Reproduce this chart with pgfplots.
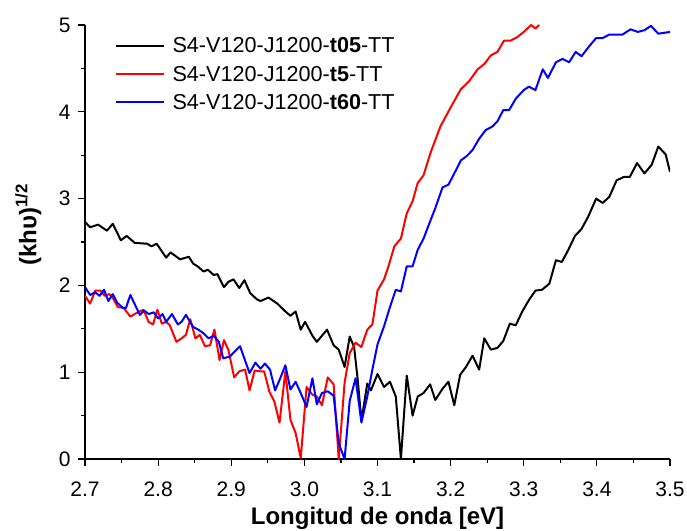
\documentclass[border=0pt]{standalone}
\usepackage{fontspec}
\setmainfont{Liberation Sans}
\usepackage{pgfplots}
\pgfplotsset{compat=1.18}

\begin{document}
\begin{tikzpicture}
% page = 687 x 530 px, axis box lower left at (85,459) px
\useasboundingbox (-85pt,-71pt) rectangle (602pt,459pt);
\begin{axis}[
    scale only axis,
    width=585pt, height=434pt,
    xmin=2.7, xmax=3.5, ymin=0, ymax=5,
    axis x line*=bottom, axis y line*=left,
    axis line style={line width=1.3pt},
    tick align=outside,
    xtick={2.7,2.8,2.9,3.0,3.1,3.2,3.3,3.4,3.5},
    ytick={0,1,2,3,4,5},
    minor x tick num=1, minor y tick num=1,
    major tick length=7pt, minor tick length=4pt,
    every tick/.style={line width=1.2pt, black},
    font=\fontsize{21}{25}\selectfont,
    /pgf/number format/assume math mode=true,
    xticklabel style={yshift=-12pt, /pgf/number format/.cd, fixed, fixed zerofill, precision=1},
    yticklabel style={xshift=-4pt},
    xlabel={Longitud de onda [eV]},
    ylabel={(khυ)\textsuperscript{1/2}},
    xlabel style={at={(axis description cs:0.5,-0.152)}, anchor=base,
        font=\fontsize{24}{28}\selectfont\bfseries},
    ylabel style={at={(axis description cs:-0.097,0.54)}, anchor=center,
        font=\fontsize{24}{28}\selectfont\bfseries},
    legend style={at={(rel axis cs:0.045,0.98)}, anchor=north west,
        draw=none, fill=none, row sep=7.5pt, font=\fontsize{21.6}{25}\selectfont},
    legend cell align=left,
    legend image code/.code={\draw[#1] (0pt,0pt) -- (48pt,0pt); \path (54pt,0pt);},
    every axis plot/.append style={line width=2pt, line join=round},
]
\addplot[black] table {
2.700 2.73
2.707 2.67
2.718 2.70
2.730 2.63
2.738 2.71
2.749 2.52
2.757 2.57
2.768 2.49
2.785 2.48
2.791 2.45
2.798 2.48
2.811 2.32
2.817 2.38
2.830 2.30
2.842 2.33
2.848 2.25
2.854 2.22
2.862 2.16
2.868 2.18
2.876 2.12
2.881 2.13
2.890 1.98
2.896 2.04
2.903 2.07
2.911 1.97
2.918 2.06
2.926 1.91
2.935 1.84
2.940 1.82
2.951 1.86
2.963 1.79
2.974 1.70
2.981 1.65
2.988 1.70
2.995 1.49
3.001 1.58
3.011 1.42
3.017 1.35
3.031 1.49
3.040 1.31
3.047 1.26
3.055 1.06
3.062 1.41
3.068 1.29
3.073 0.91
3.078 0.44
3.086 0.87
3.091 0.79
3.100 0.98
3.109 0.83
3.117 0.89
3.125 0.72
3.132 0.00
3.140 0.96
3.148 0.50
3.155 0.72
3.163 0.76
3.172 0.86
3.179 0.68
3.189 0.81
3.197 0.89
3.205 0.62
3.213 0.97
3.221 1.06
3.230 1.19
3.239 1.03
3.246 1.39
3.255 1.26
3.264 1.28
3.272 1.36
3.281 1.56
3.289 1.54
3.298 1.70
3.307 1.83
3.316 1.94
3.325 1.95
3.335 2.02
3.344 2.29
3.352 2.27
3.361 2.41
3.370 2.57
3.379 2.65
3.388 2.79
3.399 3.00
3.408 2.95
3.417 3.02
3.427 3.21
3.437 3.25
3.445 3.25
3.455 3.41
3.465 3.29
3.475 3.39
3.484 3.60
3.494 3.51
3.500 3.31
};
\addlegendentry{S4-V120-J1200-\textbf{t05}-TT}
\addplot[red] table {
2.700 1.88
2.707 1.79
2.714 1.94
2.721 1.94
2.727 1.88
2.733 1.90
2.737 1.87
2.745 1.75
2.753 1.74
2.762 1.64
2.770 1.68
2.780 1.72
2.787 1.58
2.793 1.55
2.799 1.72
2.805 1.56
2.811 1.58
2.816 1.54
2.825 1.35
2.832 1.39
2.838 1.43
2.844 1.61
2.851 1.39
2.857 1.43
2.864 1.30
2.871 1.31
2.877 1.49
2.884 1.14
2.890 1.37
2.896 1.26
2.904 0.94
2.911 1.01
2.919 1.03
2.925 0.79
2.932 1.02
2.940 1.01
2.945 1.01
2.952 0.78
2.959 0.66
2.966 0.42
2.974 1.01
2.981 0.45
2.988 0.30
2.995 0.01
3.003 0.83
3.011 0.74
3.017 0.72
3.024 0.62
3.032 0.94
3.040 0.86
3.047 0.00
3.055 0.88
3.062 1.22
3.070 1.34
3.078 1.29
3.086 1.49
3.093 1.55
3.100 1.94
3.109 2.07
3.115 2.22
3.123 2.45
3.132 2.54
3.140 2.83
3.148 2.97
3.155 3.18
3.163 3.27
3.173 3.54
3.186 3.83
3.200 4.05
3.214 4.26
3.225 4.35
3.237 4.49
3.246 4.55
3.255 4.65
3.264 4.69
3.273 4.82
3.282 4.82
3.291 4.86
3.300 4.92
3.310 5.00
3.316 4.96
3.321 5.00
};
\addlegendentry{S4-V120-J1200-\textbf{t5}-TT}
\addplot[blue] table {
2.700 1.98
2.707 1.89
2.714 1.92
2.720 1.88
2.726 1.95
2.732 1.82
2.738 1.90
2.744 1.80
2.752 1.74
2.756 1.74
2.762 1.89
2.775 1.66
2.781 1.71
2.787 1.67
2.794 1.69
2.800 1.62
2.806 1.67
2.811 1.58
2.819 1.67
2.827 1.55
2.832 1.58
2.838 1.66
2.848 1.52
2.855 1.49
2.862 1.45
2.869 1.39
2.876 1.42
2.883 1.35
2.889 1.16
2.898 1.18
2.905 1.24
2.912 1.30
2.925 0.99
2.933 1.11
2.940 1.04
2.946 1.10
2.953 1.03
2.960 0.79
2.967 0.93
2.974 1.08
2.981 0.80
2.988 0.89
2.995 0.76
3.003 0.60
3.011 0.93
3.017 0.63
3.024 0.76
3.032 0.78
3.040 0.73
3.047 0.18
3.055 0.00
3.062 0.67
3.070 0.93
3.078 0.42
3.086 0.72
3.093 1.03
3.100 1.32
3.109 1.53
3.117 1.75
3.125 1.95
3.132 1.93
3.140 2.22
3.148 2.22
3.155 2.41
3.163 2.54
3.173 2.76
3.179 2.89
3.189 3.13
3.197 3.16
3.205 3.29
3.214 3.44
3.222 3.49
3.230 3.56
3.239 3.69
3.248 3.79
3.257 3.83
3.264 3.89
3.272 4.02
3.280 4.02
3.289 4.15
3.300 4.25
3.307 4.29
3.316 4.25
3.326 4.49
3.333 4.39
3.344 4.57
3.353 4.61
3.362 4.57
3.371 4.69
3.379 4.64
3.389 4.75
3.399 4.85
3.408 4.85
3.417 4.89
3.435 4.89
3.446 4.95
3.456 4.92
3.465 4.94
3.474 4.99
3.484 4.90
3.500 4.92
};
\addlegendentry{S4-V120-J1200-\textbf{t60}-TT}
\end{axis}
\end{tikzpicture}
\end{document}
